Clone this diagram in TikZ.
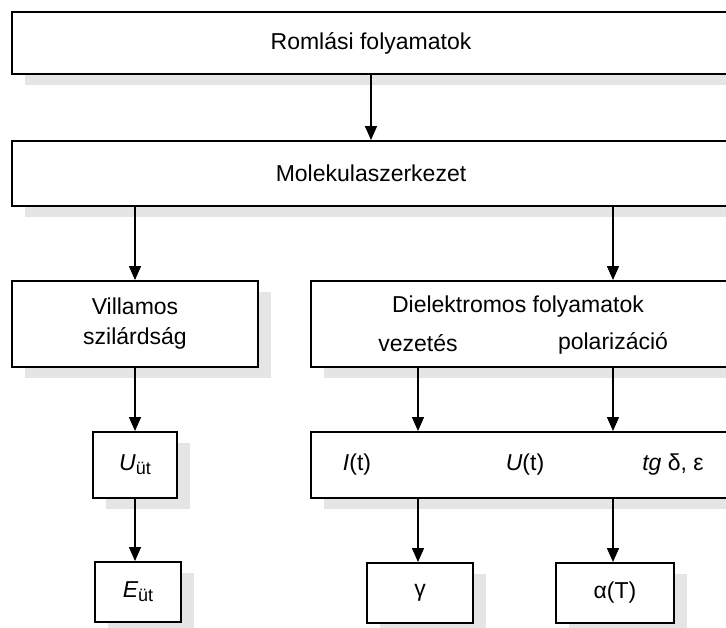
\documentclass[tikz,border=0pt]{standalone}
\usepackage{fontspec}
\setmainfont{Liberation Sans}
\usetikzlibrary{arrows.meta}
\usetikzlibrary{shadows}

\tikzset{
  box/.style={draw, line width=2pt, fill=white, inner sep=0pt,
    drop shadow={shadow xshift=13pt, shadow yshift=-11pt, fill=gray!20, opacity=1}},
  lbl/.style={inner sep=0pt},
  arr/.style={line width=1.5pt, -{Triangle[length=14pt,width=12pt]}}
}

\begin{document}
\begin{tikzpicture}[x=1pt, y=-1pt, font=\fontsize{23}{30}\selectfont]
\useasboundingbox (0,0) rectangle (726,627);
\clip (0,0) rectangle (726,627);
% top row
\node[box, minimum width=718, minimum height=62] (romlas) at (371,43) {Romlási folyamatok};
\node[box, minimum width=718, minimum height=65] (mol) at (371,173.5) {Molekulaszerkezet};
% middle row
\node[box, minimum width=246, minimum height=86, align=center] (vill) at (135,324) {Villamos\\szilárdság};
\node[box, minimum width=420, minimum height=86] (diel) at (521,324) {};
\node[lbl] (dieltxt) at (518,307) {Dielektromos folyamatok};
\node[lbl] (vezet) at (418,343) {vezetés};
\node[lbl] (polar) at (613,343) {polarizáció};
% lower row
\node[box, minimum width=84, minimum height=66] (uut) at (135,465) {{\itshape U}\raisebox{-0.35ex}{\fontsize{18}{20}\selectfont üt}};
\node[box, minimum width=420, minimum height=66] (meres) at (521,465) {};
\node[lbl] (it) at (357,465) {{\itshape I}(t)};
\node[lbl] (ut) at (525,465) {{\itshape U}(t)};
\node[lbl] (tg) at (673,465) {{\itshape tg} δ, ε};
% bottom row
\node[box, minimum width=86, minimum height=60] (eut) at (138,592) {{\itshape E}\raisebox{-0.35ex}{\fontsize{18}{20}\selectfont üt}};
\node[box, minimum width=106, minimum height=60] (gamma) at (420,593) {γ};
\node[box, minimum width=118, minimum height=60] (alfa) at (615,593) {α(T)};
% arrows
\draw[arr] (romlas.south) -- (mol.north);
\draw[arr] (vill.north |- mol.south) -- (vill.north);
\draw[arr] (polar |- mol.south) -- (polar |- diel.north);
\draw[arr] (vill.south) -- (uut.north);
\draw[arr] (vezet |- diel.south) -- (vezet |- meres.north);
\draw[arr] (polar |- diel.south) -- (polar |- meres.north);
\draw[arr] (uut.south) -- (uut.south |- eut.north);
\draw[arr] (vezet |- meres.south) -- (vezet |- gamma.north);
\draw[arr] (polar |- meres.south) -- (polar |- alfa.north);
\end{tikzpicture}
\end{document}
